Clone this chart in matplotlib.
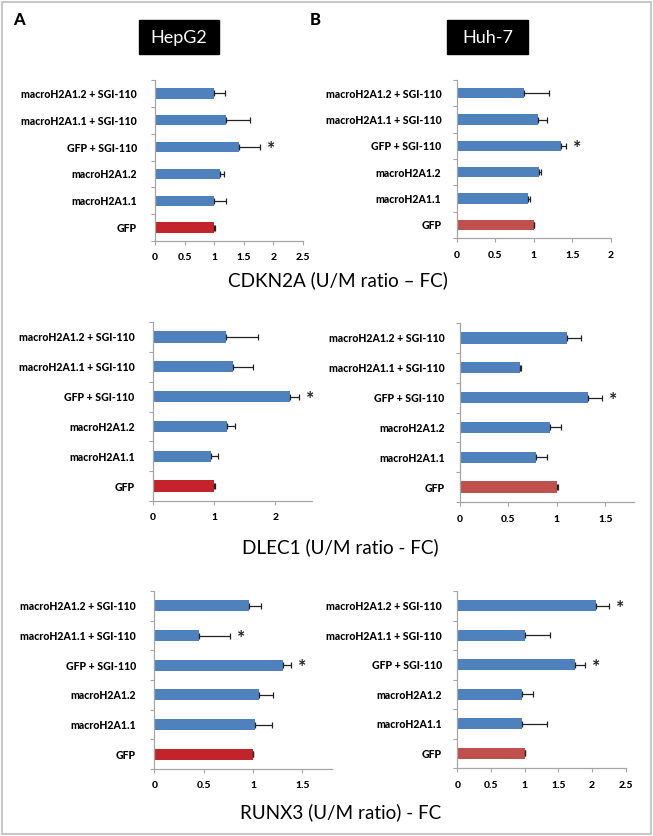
"""
Recreation of a two-column figure: U/M ratio fold change (CDKN2A, DLEC1, RUNX3)
in HepG2 (A) and Huh-7 (B) cells, horizontal bars with one-sided error bars.
"""
import matplotlib
matplotlib.use("Agg")
import matplotlib.pyplot as plt
from matplotlib.patches import Rectangle
import numpy as np

plt.rcParams["font.family"] = ["Lato", "DejaVu Sans"]

# --- data (categories bottom -> top) ---
CATEGORIES = ["GFP", "macroH2A1.1", "macroH2A1.2", "GFP + SGI-110",
              "macroH2A1.1 + SGI-110", "macroH2A1.2 + SGI-110"]

cdkn2a_hepg2 = [1.00, 1.00, 1.10, 1.43, 1.21, 1.00]
cdkn2a_hepg2_err = [0.01, 0.21, 0.07, 0.35, 0.39, 0.19]
cdkn2a_hepg2_star = [False, False, False, True, False, False]

cdkn2a_huh7 = [1.00, 0.93, 1.07, 1.35, 1.05, 0.87]
cdkn2a_huh7_err = [0.01, 0.02, 0.03, 0.07, 0.12, 0.33]
cdkn2a_huh7_star = [False, False, False, True, False, False]

dlec1_hepg2 = [1.00, 0.95, 1.21, 2.24, 1.30, 1.19]
dlec1_hepg2_err = [0.01, 0.12, 0.13, 0.15, 0.33, 0.52]
dlec1_hepg2_star = [False, False, False, True, False, False]

dlec1_huh7 = [1.00, 0.79, 0.93, 1.32, 0.62, 1.10]
dlec1_huh7_err = [0.01, 0.11, 0.11, 0.15, 0.01, 0.15]
dlec1_huh7_star = [False, False, False, True, False, False]

runx3_hepg2 = [1.00, 1.02, 1.06, 1.30, 0.45, 0.96]
runx3_hepg2_err = [0.00, 0.17, 0.14, 0.08, 0.32, 0.12]
runx3_hepg2_star = [False, False, False, True, True, False]

runx3_huh7 = [1.00, 0.96, 0.955, 1.74, 1.01, 2.06]
runx3_huh7_err = [0.01, 0.37, 0.165, 0.16, 0.37, 0.19]
runx3_huh7_star = [False, False, False, True, False, True]

xticks_a1 = [0, 0.5, 1, 1.5, 2, 2.5]
xticks_b1 = [0, 0.5, 1, 1.5, 2]
xticks_a2 = [0, 1, 2]
xticks_b2 = [0, 0.5, 1, 1.5]
xticks_a3 = [0, 0.5, 1, 1.5]
xticks_b3 = [0, 0.5, 1, 1.5, 2, 2.5]

BLUE = "#4f81bd"
RED_HEPG2 = "#c3232b"
RED_HUH7 = "#c0504d"
SPINE = "#a6a6a6"

W, H = 653, 836
fig = plt.figure(figsize=(W / 100, H / 100), dpi=100)


def px_axes(x0, x1, ytop, ybot):
    return fig.add_axes([x0 / W, 1 - ybot / H, (x1 - x0) / W, (ybot - ytop) / H])


def bar_panel(ax, vals, errs, stars, red, xmax, xticks, lab_pad):
    n = len(vals)
    y = np.arange(n)
    colors = [red] + [BLUE] * (n - 1)
    ax.barh(y, vals, height=0.38, color=colors, zorder=2)
    ax.errorbar(vals, y, xerr=[np.zeros(n), errs], fmt="none", ecolor="#222222",
                elinewidth=0.9, capsize=2.5, capthick=0.9, zorder=3)
    for yi, v, e, s in zip(y, vals, errs, stars):
        if s:
            ax.annotate("*", (v + e, yi), xytext=(5, -2), textcoords="offset points",
                        ha="left", va="center", fontsize=14, fontweight="bold",
                        color="#222222")
    ax.set_xlim(0, xmax)
    ax.set_ylim(-0.5, n - 0.5)
    ax.set_xticks(xticks)
    ax.set_xticklabels([f"{t:g}" for t in xticks], fontsize=7.5, fontweight="black")
    ax.set_yticks(y)
    ax.set_yticklabels(CATEGORIES, fontsize=7.6, fontweight="black")
    ax.set_yticks(np.arange(n + 1) - 0.5, minor=True)
    ax.tick_params(axis="y", which="major", length=0, pad=lab_pad)
    ax.tick_params(axis="y", which="minor", length=3, color=SPINE, width=0.8)
    ax.tick_params(axis="x", length=3, color=SPINE, width=0.8, pad=6)
    for side in ("top", "right"):
        ax.spines[side].set_visible(False)
    for side in ("left", "bottom"):
        ax.spines[side].set_color(SPINE)
        ax.spines[side].set_linewidth(0.9)


ax = px_axes(155, 302.7, 80, 241)
bar_panel(ax, cdkn2a_hepg2, cdkn2a_hepg2_err, cdkn2a_hepg2_star, RED_HEPG2, 2.5, xticks_a1, 13)
ax = px_axes(456.7, 610.7, 80, 238)
bar_panel(ax, cdkn2a_huh7, cdkn2a_huh7_err, cdkn2a_huh7_star, RED_HUH7, 2.0, xticks_b1, 11)
ax = px_axes(152.7, 312.3, 322, 501)
bar_panel(ax, dlec1_hepg2, dlec1_hepg2_err, dlec1_hepg2_star, RED_HEPG2, 2.6, xticks_a2, 13)
ax = px_axes(460, 634.3, 323, 502)
bar_panel(ax, dlec1_huh7, dlec1_huh7_err, dlec1_huh7_star, RED_HUH7, 1.8, xticks_b2, 11)
ax = px_axes(154.3, 332, 591, 769)
bar_panel(ax, runx3_hepg2, runx3_hepg2_err, runx3_hepg2_star, RED_HEPG2, 1.8, xticks_a3, 13)
ax = px_axes(457.3, 625.7, 591, 768)
bar_panel(ax, runx3_huh7, runx3_huh7_err, runx3_huh7_star, RED_HUH7, 2.5, xticks_b3, 11)

# panel letters and cell line headers
fig.text(13 / W, 1 - 20 / H, "A", fontsize=12, fontweight="black", va="center")
fig.text(310 / W, 1 - 20 / H, "B", fontsize=12, fontweight="black", va="center")
for (x0, x1), name in [((139, 219), "HepG2"), ((447, 528), "Huh-7")]:
    fig.patches.append(Rectangle((x0 / W, 1 - 54 / H), (x1 - x0) / W, 34 / H,
                                 transform=fig.transFigure, color="black"))
    fig.text((x0 + x1) / 2 / W, 1 - 38 / H, name, color="white", fontsize=13,
             ha="center", va="center")

# gene titles
fig.text(338 / W, 1 - 280 / H, "CDKN2A (U/M ratio \u2013 FC)", fontsize=13.6,
         ha="center", va="center")
fig.text(340 / W, 1 - 547 / H, "DLEC1 (U/M ratio - FC)", fontsize=13.6,
         ha="center", va="center")
fig.text(341 / W, 1 - 812 / H, "RUNX3 (U/M ratio) - FC", fontsize=13.6,
         ha="center", va="center")

# light frame around figure
fig.patches.append(Rectangle((2 / W, 2 / H), (W - 4) / W, (H - 4) / H,
                             transform=fig.transFigure, fill=False,
                             edgecolor="#c8c8c8", linewidth=1.5))

fig.savefig("out.png", dpi=100)
